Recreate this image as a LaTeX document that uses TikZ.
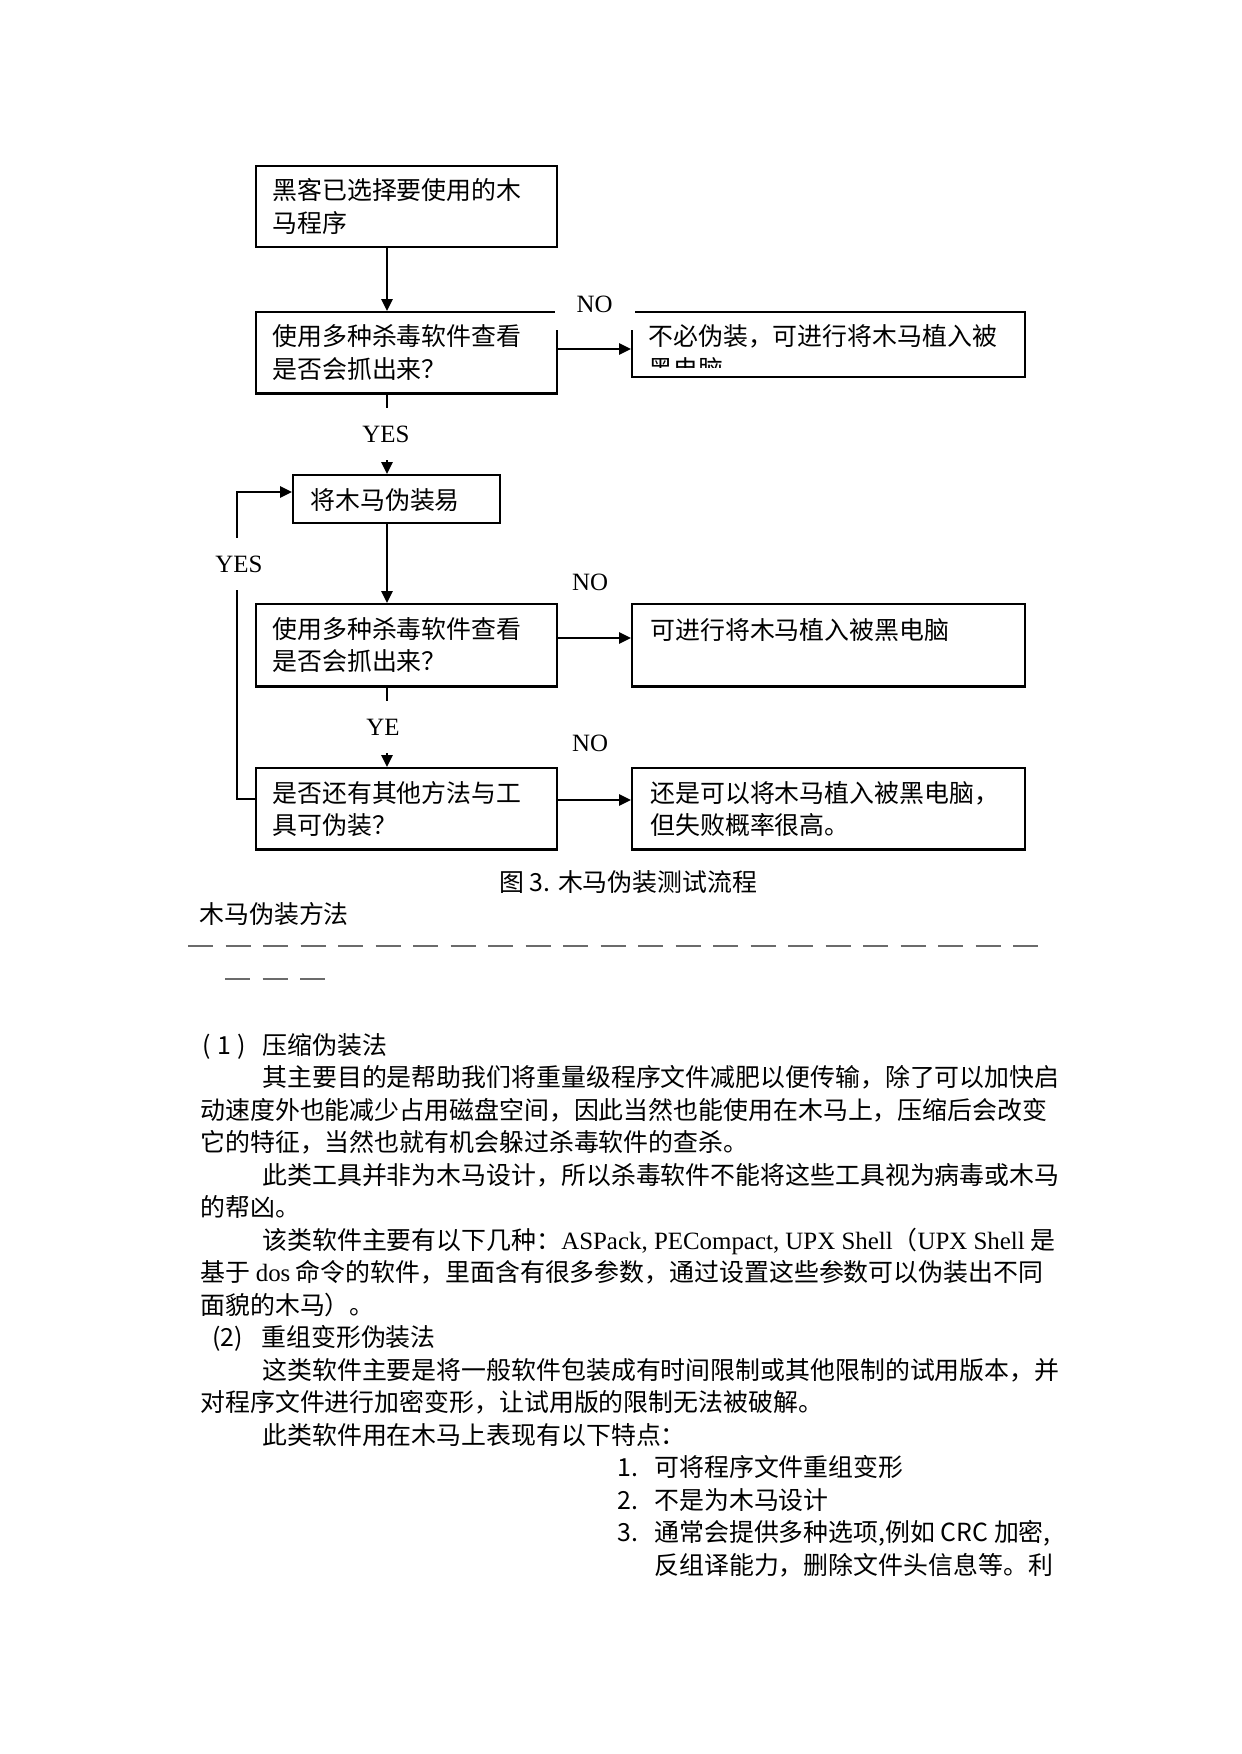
\documentclass[tikz,border=0pt]{standalone}
\usepackage{fontspec}
\setmainfont{Liberation Serif}
\newfontfamily\cjk{Noto Sans CJK SC}
\usetikzlibrary{arrows.meta}
\def\pxl{0.4818pt}
\begin{document}
\begin{tikzpicture}[x=0.4818pt, y=-0.4818pt,
  box/.style={draw, line width=0.9pt, inner sep=0pt},
  arr/.style={-{Triangle[length=5.8pt,width=5.4pt]}, line width=0.9pt},
  txt/.style={anchor=base west, inner sep=0pt, font=\cjk\fontsize{12pt}{15pt}\selectfont},
  lat/.style={inner sep=0pt, font=\rmfamily\fontsize{12pt}{15pt}\selectfont},
  lbl/.style={lat, fill=white, minimum width=80*\pxl, minimum height=52*\pxl},
  thick bottom/.style={line width=1.5pt},
  dashrow/.style={draw=black!58, line width=2*\pxl, dash pattern=on 25*\pxl off 12.5*\pxl}
]
\fill[white] (0,0) rectangle (1241,1754);
\useasboundingbox (0,0) rectangle (1241,1754);

% ---------- boxes ----------
\node[box, minimum width=301*\pxl, minimum height=81*\pxl] (b1) at (406.5,206.5) {};
\node[box, minimum width=301*\pxl, minimum height=81*\pxl] (b2) at (406.5,352.5) {};
\node[box, minimum width=393*\pxl, minimum height=65*\pxl] (b3) at (828.5,344.5) {};
\node[box, minimum width=207*\pxl, minimum height=48*\pxl] (b4) at (396.5,499) {};
\node[box, minimum width=301*\pxl, minimum height=82*\pxl] (b5) at (406.5,645) {};
\node[box, minimum width=393*\pxl, minimum height=82*\pxl] (b6) at (828.5,645) {};
\node[box, minimum width=301*\pxl, minimum height=81*\pxl] (b7) at (406.5,808.5) {};
\node[box, minimum width=393*\pxl, minimum height=81*\pxl] (b8) at (828.5,808.5) {};
\foreach \b in {b2,b5,b6,b7,b8}{\draw[thick bottom] (\b.south west) -- (\b.south east);}

% ---------- box texts ----------
\node[txt] (t1a) at (272,200) {黑客已选择要使用的木};
\node[txt] (t1b) at (272,233) {马程序};
\node[txt] (t2a) at (272,346) {使用多种杀毒软件查看};
\node[txt] (t2b) at (272,378) {是否会抓出来？};
\begin{scope}
  \clip (b3.north west) rectangle (b3.east |- 0,368);
  \node[txt] (t3a) at (648,346) {不必伪装，可进行将木马植入被};
  \node[txt] (t3b) at (648,378) {黑电脑};
\end{scope}
\node[txt] (t4) at (310,509) {将木马伪装易};
\node[txt] (t5a) at (272,638) {使用多种杀毒软件查看};
\node[txt] (t5b) at (272,670) {是否会抓出来？};
\node[txt] (t6) at (650,639) {可进行将木马植入被黑电脑};
\node[txt] (t7a) at (272,802) {是否还有其他方法与工};
\node[txt] (t7b) at (272,834) {具可伪装？};
\node[txt] (t8a) at (650,802) {还是可以将木马植入被黑电脑，};
\node[txt] (t8b) at (650,834) {但失败概率很高。};

% ---------- connectors ----------
\coordinate (vx) at (387,0);
\coordinate (r2) at (0,349);
\coordinate (r5) at (0,638);
\coordinate (r7) at (0,800);
\coordinate (lx) at (237,0);
\coordinate (lin) at (0,492);
\coordinate (lout) at (0,799);
\draw[arr] (b1.south -| vx) -- (b2.north -| vx);
\draw[arr] (b2.south -| vx) -- (b4.north -| vx);
\draw[arr] (b4.south -| vx) -- (b5.north -| vx);
\draw[arr] (b5.south -| vx) -- (b7.north -| vx);
\draw[arr] (b2.east |- r2) -- (b3.west |- r2);
\draw[arr] (b5.east |- r5) -- (b6.west |- r5);
\draw[arr] (b7.east |- r7) -- (b8.west |- r7);
\draw[arr] (b7.west |- lout) -| (lx |- lin) -- (b4.west |- lin);

% ---------- labels ----------
\node[lbl] (yes1) at (386,434) {YES};
\node[lbl] (yes2) at (239,564) {YES};
\node[lbl] (ye) at (383,727) {YE};
\node[lbl] (no1) at (594.5,304) {NO};
\node[lat] (no2) at (590,582) {NO};
\node[lat] (no3) at (590,743) {NO};

% ---------- caption and heading ----------
\node[txt] (cap) at (499,891) {图 3. 木马伪装测试流程};
\node[txt] (head) at (199,923) {木马伪装方法};
\draw[dashrow] (188,946) -- (1038,946);
\draw[dashrow] (225,979) -- (325,979);

% ---------- body ----------
\node[txt] (p1n) at (202,1054) {(\hspace{3pt}1\hspace{3pt})};
\node[txt] (p1h) at (262,1054) {压缩伪装法};
\node[txt] (l1) at (262,1086.5) {其主要目的是帮助我们将重量级程序文件减肥以便传输，除了可以加快启};
\node[txt] (l2) at (200,1119) {动速度外也能减少占用磁盘空间，因此当然也能使用在木马上，压缩后会改变};
\node[txt] (l3) at (200,1151.5) {它的特征，当然也就有机会躲过杀毒软件的查杀。};
\node[txt] (l4) at (262,1184) {此类工具并非为木马设计，所以杀毒软件不能将这些工具视为病毒或木马};
\node[txt] (l5) at (200,1216.5) {的帮凶。};
\node[txt] (l6) at (262,1249) {该类软件主要有以下几种：{\rmfamily ASPack, PECompact, UPX Shell}（{\rmfamily UPX Shell} 是};
\node[txt] (l7) at (200,1281.5) {基于 {\rmfamily dos} 命令的软件，里面含有很多参数，通过设置这些参数可以伪装出不同};
\node[txt] (l8) at (200,1314) {面貌的木马）。};
\node[txt] (p2n) at (212,1346.5) {(2)};
\node[txt] (p2h) at (261,1346.5) {重组变形伪装法};
\node[txt] (l9) at (262,1379) {这类软件主要是将一般软件包装成有时间限制或其他限制的试用版本，并};
\node[txt] (l10) at (200,1411.5) {对程序文件进行加密变形，让试用版的限制无法被破解。};
\node[txt] (l11) at (262,1444) {此类软件用在木马上表现有以下特点：};
\node[txt] (n1) at (617,1476.5) {1.};
\node[txt] (i1) at (654,1476.5) {可将程序文件重组变形};
\node[txt] (n2) at (617,1509) {2.};
\node[txt] (i2) at (654,1509) {不是为木马设计};
\node[txt] (n3) at (617,1541.5) {3.};
\node[txt] (i3) at (654,1541.5) {通常会提供多种选项,例如 CRC 加密,};
\node[txt] (i3b) at (654,1574) {反组译能力，删除文件头信息等。利};
\end{tikzpicture}
\end{document}
